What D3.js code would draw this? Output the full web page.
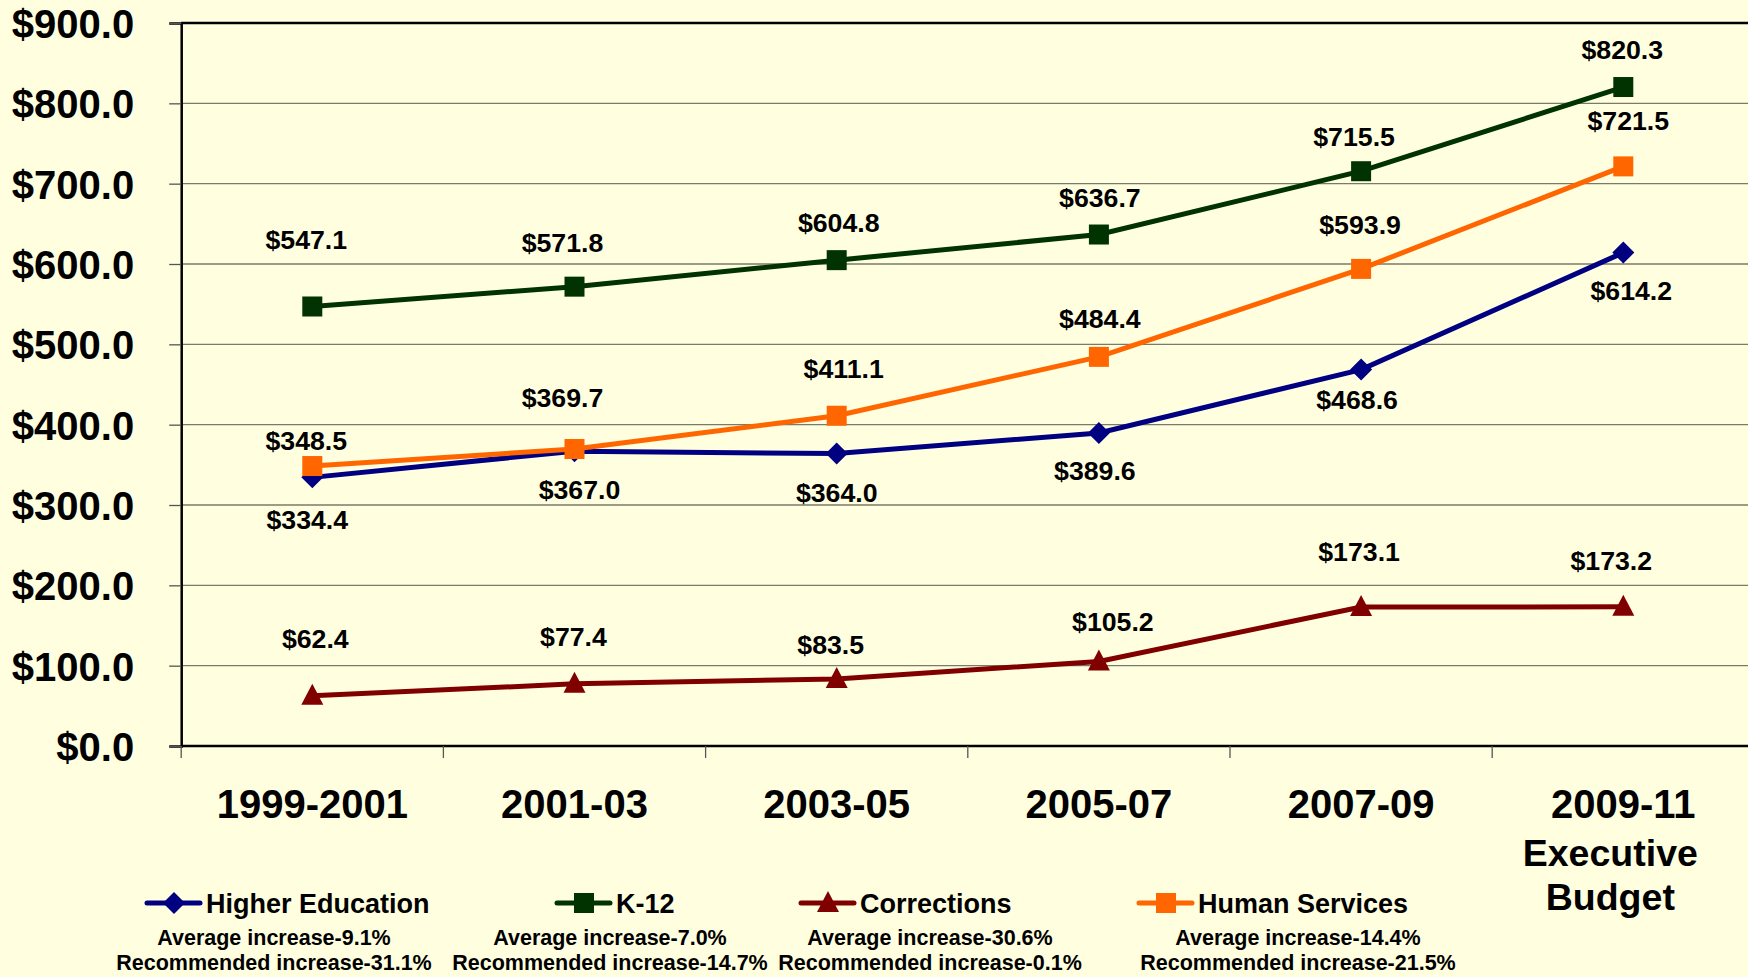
<!DOCTYPE html>
<html>
<head>
<meta charset="utf-8">
<script src="https://cdn.jsdelivr.net/npm/d3@7"></script>
<style>
    body { margin: 0; background: #ffffe0; overflow: hidden; }
    svg { display: block; font-family: "Liberation Sans", Arial, sans-serif; font-weight: bold; }
</style>
</head>
<body>
<svg width="1748" height="977"></svg>
<script>
const categories = ["1999-2001", "2001-03", "2003-05", "2005-07", "2007-09", "2009-11"];
const categoryNotes = ["", "", "", "", "", "Executive Budget"];
const yTicks = [0, 100, 200, 300, 400, 500, 600, 700, 800, 900];

const higherEd = [334.4, 367.0, 364.0, 389.6, 468.6, 614.2];
const k12 = [547.1, 571.8, 604.8, 636.7, 715.5, 820.3];
const corrections = [62.4, 77.4, 83.5, 105.2, 173.1, 173.2];
const humanServices = [348.5, 369.7, 411.1, 484.4, 593.9, 721.5];

const seriesNames = ["Higher Education", "K-12", "Corrections", "Human Services"];
const avgIncrease = ["9.1%", "7.0%", "30.6%", "14.4%"];
const recIncrease = ["31.1%", "14.7%", "0.1%", "21.5%"];

// layout / style, kept apart from the values
const styles = [
    { color: "#000080", shape: "diamond", lx: [-5, 5, 0, -4, -4, 8], ly: [42, 38, 39, 37, 30, 38], legX: 147, subX: 274 },
    { color: "#003300", shape: "square", lx: [-6, -12, 2, 1, -7, -1], ly: [-67, -44, -38, -37, -35, -38], legX: 557, subX: 610 },
    { color: "#800000", shape: "triangle", lx: [3, -1, -6, 14, -2, -12], ly: [-57, -47, -35, -40, -56, -46], legX: 801, subX: 930 },
    { color: "#ff6600", shape: "square", lx: [-6, -12, 7, 1, -1, 5], ly: [-26, -52, -47, -38, -45, -46], legX: 1139, subX: 1298 }
];
const seriesData = [higherEd, k12, corrections, humanServices];

const plotLeft = 181.2, plotTop = 23, plotBottom = 746, band = 262.2;
const svg = d3.select("svg");

const x = d3.scaleBand(categories, [plotLeft, plotLeft + band * categories.length]);
const y = d3.scaleLinear([0, 900], [plotBottom, plotTop]);
const cx = c => x(c) + x.bandwidth() / 2;

// gridlines
svg.append("g")
    .selectAll("line")
    .data(yTicks.filter(d => d > 0 && d < 900))
    .enter()
    .append("line")
    .attr("x1", plotLeft).attr("x2", 1748)
    .attr("y1", d => y(d)).attr("y2", d => y(d))
    .attr("stroke", "#7a7a6a")
    .attr("stroke-width", 1.3);

// top border
svg.append("line")
    .attr("x1", plotLeft).attr("x2", 1748)
    .attr("y1", y(900)).attr("y2", y(900))
    .attr("stroke", "#000").attr("stroke-width", 2.5);

// y axis
const yAxis = svg.append("g")
    .attr("transform", `translate(${plotLeft},0)`)
    .call(d3.axisLeft(y)
        .tickValues(yTicks)
        .tickSize(12)
        .tickPadding(35)
        .tickFormat(d => "$" + d3.format(".1f")(d)));
yAxis.select(".domain").attr("stroke", "#000").attr("stroke-width", 2.5);
yAxis.selectAll(".tick line").attr("stroke", "#555").attr("stroke-width", 1.3);
yAxis.selectAll("text")
    .attr("fill", "#000")
    .style("font-size", "40px")
    .style("font-family", "'Liberation Sans', Arial, sans-serif")
    .style("font-weight", "bold")
    .attr("dy", "0.36em");

// x axis: labels at band centres, ticks at band edges
const xAxis = svg.append("g")
    .attr("transform", `translate(0,${plotBottom})`)
    .call(d3.axisBottom(x).tickSize(0).tickPadding(44));
xAxis.select(".domain").remove();
xAxis.selectAll("text")
    .attr("fill", "#000")
    .style("font-size", "40px")
    .style("font-family", "'Liberation Sans', Arial, sans-serif")
    .style("font-weight", "bold");
xAxis.selectAll(".tick")
    .filter((d, i) => categoryNotes[i] !== "")
    .each(function (d) {
        const note = categoryNotes[categories.indexOf(d)].split(" ");
        const t = d3.select(this).append("text")
            .attr("fill", "#000")
            .attr("text-anchor", "middle")
            .style("font-size", "37.5px")
            .style("font-family", "'Liberation Sans', Arial, sans-serif")
            .style("font-weight", "bold");
        note.forEach((w, k) => t.append("tspan").attr("x", -13).attr("y", 120 + k * 44).text(w));
    });

svg.append("line")
    .attr("x1", plotLeft).attr("x2", 1748)
    .attr("y1", plotBottom).attr("y2", plotBottom)
    .attr("stroke", "#000").attr("stroke-width", 2.5);
svg.append("g")
    .selectAll("line")
    .data(categories)
    .enter()
    .append("line")
    .attr("x1", d => x(d)).attr("x2", d => x(d))
    .attr("y1", plotBottom).attr("y2", plotBottom + 12)
    .attr("stroke", "#555").attr("stroke-width", 1.3);

function marker(sel, shape, color) {
    if (shape === "square") {
        sel.append("rect").attr("x", -10).attr("y", -10).attr("width", 20).attr("height", 20).attr("fill", color);
    } else if (shape === "diamond") {
        sel.append("path").attr("d", "M0,-11L11,0L0,11L-11,0Z").attr("fill", color);
    } else {
        sel.append("path").attr("d", "M0,-12L11,9L-11,9Z").attr("fill", color);
    }
}

const line = d3.line().x((d, i) => cx(categories[i])).y(d => y(d));

seriesData.forEach((vals, s) => {
    const st = styles[s];
    const g = svg.append("g");
    g.append("path")
        .datum(vals)
        .attr("d", line)
        .attr("fill", "none")
        .attr("stroke", st.color)
        .attr("stroke-width", 5);
    g.selectAll("g.pt")
        .data(vals)
        .enter()
        .append("g")
        .attr("class", "pt")
        .attr("transform", (d, i) => `translate(${cx(categories[i])},${y(d)})`)
        .each(function () { marker(d3.select(this), st.shape, st.color); });
    g.selectAll("text")
        .data(vals)
        .enter()
        .append("text")
        .attr("x", (d, i) => cx(categories[i]) + st.lx[i])
        .attr("y", (d, i) => y(d) + st.ly[i])
        .attr("dy", "0.36em")
        .attr("text-anchor", "middle")
        .style("font-size", "26.7px")
        .text(d => "$" + d3.format(".1f")(d));
});

// legend
const legend = svg.append("g");
seriesNames.forEach((name, s) => {
    const st = styles[s];
    const g = legend.append("g");
    g.append("line")
        .attr("x1", st.legX).attr("x2", st.legX + 53)
        .attr("y1", 903).attr("y2", 903)
        .attr("stroke", st.color).attr("stroke-width", 5).attr("stroke-linecap", "round");
    marker(g.append("g").attr("transform", `translate(${st.legX + 27},903)`), st.shape, st.color);
    g.append("text")
        .attr("x", st.legX + 59).attr("y", 913)
        .style("font-size", "27px")
        .text(name);
    g.append("text")
        .attr("x", st.subX).attr("y", 945)
        .attr("text-anchor", "middle")
        .style("font-size", "21.5px")
        .text("Average increase-" + avgIncrease[s]);
    g.append("text")
        .attr("x", st.subX).attr("y", 970)
        .attr("text-anchor", "middle")
        .style("font-size", "21.5px")
        .text("Recommended increase-" + recIncrease[s]);
});
</script>
</body>
</html>
